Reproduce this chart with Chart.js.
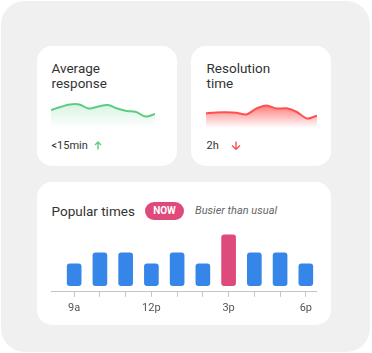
<!DOCTYPE html>
<html>
<head>
<meta charset="utf-8">
<script src="https://cdn.jsdelivr.net/npm/chart.js@4.4.0/dist/chart.umd.min.js"></script>
<style>
  html, body { margin: 0; padding: 0; background: #fff; width: 372px; height: 353px; overflow: hidden; }
  body { font-family: Roboto, "Noto Sans", sans-serif; color: #333; position: relative; }
  .panel { position: absolute; left: 1px; top: 1px; width: 369px; height: 351px; background: #f0f0f0; border-radius: 24px; }
  .card { position: absolute; background: #fff; border-radius: 15px; }
  .abs { position: absolute; white-space: nowrap; }
  .title { font-size: 13.5px; line-height: 15px; color: #333; }
  .stat { font-size: 11px; line-height: 13px; color: #333; }
  .pill { background: #e04a7a; color: #fff; font-weight: bold; font-size: 10px; border-radius: 9px;
          display: flex; align-items: center; justify-content: center; }
  .note { font-style: italic; font-size: 11px; color: #666; }
  canvas { position: absolute; }
</style>
</head>
<body>
<div class="panel"></div>
<div class="card" style="left:37px;top:46px;width:140px;height:120px"></div>
<div class="card" style="left:191px;top:46px;width:140px;height:120px"></div>
<div class="card" style="left:37px;top:182px;width:294px;height:143px"></div>

<div class="abs title" style="left:51.5px;top:61px">Average<br>response</div>
<div class="abs title" style="left:206.5px;top:61px">Resolution<br>time</div>
<div class="abs stat" style="left:51.5px;top:139px">&lt;15min</div>
<svg class="abs" style="left:94px;top:141px" width="8" height="9" viewBox="0 0 8 9">
  <path d="M4 8.5V1M1 4l3-3 3 3" fill="none" stroke="#5bcd83" stroke-width="1.4"/>
</svg>
<div class="abs stat" style="left:206.5px;top:139px">2h</div>
<svg class="abs" style="left:231px;top:141px" width="10" height="9" viewBox="0 0 10 9">
  <path d="M5 0.5V8M1 4.5l4 3.8 4-3.8" fill="none" stroke="#ff5050" stroke-width="1.4"/>
</svg>

<div class="abs title" style="left:51.5px;top:203.5px">Popular times</div>
<div class="abs pill" style="left:145px;top:202px;width:39px;height:17.5px">NOW</div>
<div class="abs note" style="left:195px;top:204px">Busier than usual</div>

<canvas id="avgChart" style="left:51px;top:100px" width="104" height="28"></canvas>
<canvas id="resChart" style="left:206px;top:100px" width="111" height="28"></canvas>
<canvas id="busyChart" style="left:51px;top:231px" width="266" height="89"></canvas>

<script>
// sparkline values (relative)
const avgResponse = [18, 21, 23.5, 23.5, 19.5, 21.5, 23, 19.5, 17, 16, 11.5, 14];
const resolutionTime = [14.7, 15.5, 15.7, 15.2, 13.5, 19.5, 22.5, 19.5, 19.7, 16, 9.5, 12.3];

// popular times
const hours = ['9a', '10a', '11a', '12p', '1p', '2p', '3p', '4p', '5p', '6p'];
const shownHours = ['9a', '12p', '3p', '6p'];
const busyness = [2, 3, 3, 2, 3, 2, 4.65, 3, 3, 2];
const nowIndex = 6;

function sparkline(id, values, lineColor, topColor, bottomColor, tension) {
  const canvas = document.getElementById(id);
  const ctx = canvas.getContext('2d');
  const grad = ctx.createLinearGradient(0, 0, 0, canvas.height);
  grad.addColorStop(0, topColor);
  grad.addColorStop(1, bottomColor);
  new Chart(ctx, {
    type: 'line',
    data: {
      labels: values.map((v, i) => i),
      datasets: [{
        data: values,
        borderColor: lineColor,
        borderWidth: 2,
        backgroundColor: grad,
        fill: 'start',
        pointRadius: 0,
        tension: tension,
        clip: false
      }]
    },
    options: {
      responsive: false,
      animation: false,
      events: [],
      layout: { padding: 0 },
      plugins: { legend: { display: false }, tooltip: { enabled: false } },
      scales: {
        x: { display: false, offset: false },
        y: { display: false, min: 0, max: 28 }
      }
    }
  });
}

sparkline('avgChart', avgResponse, '#5bcd83', 'rgba(92,205,131,0.28)', 'rgba(92,205,131,0)', 0.4);
sparkline('resChart', resolutionTime, '#ff4f4f', 'rgba(255,60,60,0.85)', 'rgba(255,70,70,0)', 0.25);

new Chart(document.getElementById('busyChart'), {
  type: 'bar',
  data: {
    datasets: [{
      data: hours.map((h, i) => ({ x: i, y: busyness[i] })),
      backgroundColor: hours.map((h, i) => i === nowIndex ? '#de4a7b' : '#3686ea'),
      borderRadius: 3,
      borderSkipped: false,
      barThickness: 14
    }]
  },
  options: {
    responsive: false,
    animation: false,
    events: [],
    layout: { padding: 0 },
    plugins: { legend: { display: false }, tooltip: { enabled: false } },
    scales: {
      x: {
        type: 'linear',
        offset: false,
        min: -0.9,
        max: 9.43,
        afterBuildTicks: (scale) => {
          scale.ticks = hours.map((h, i) => ({ value: i }));
        },
        grid: { offset: false, drawOnChartArea: false, drawTicks: true, tickLength: 5, color: '#c4c4c4' },
        border: { color: '#c4c4c4', width: 1 },
        ticks: {
          autoSkip: false,
          maxRotation: 0,
          padding: 5,
          color: '#555',
          font: { family: 'Roboto', size: 11 },
          callback: (value) => shownHours.includes(hours[value]) ? hours[value] : ''
        }
      },
      y: { display: false, min: -0.55, max: 5 }
    }
  }
});
</script>
</body>
</html>
